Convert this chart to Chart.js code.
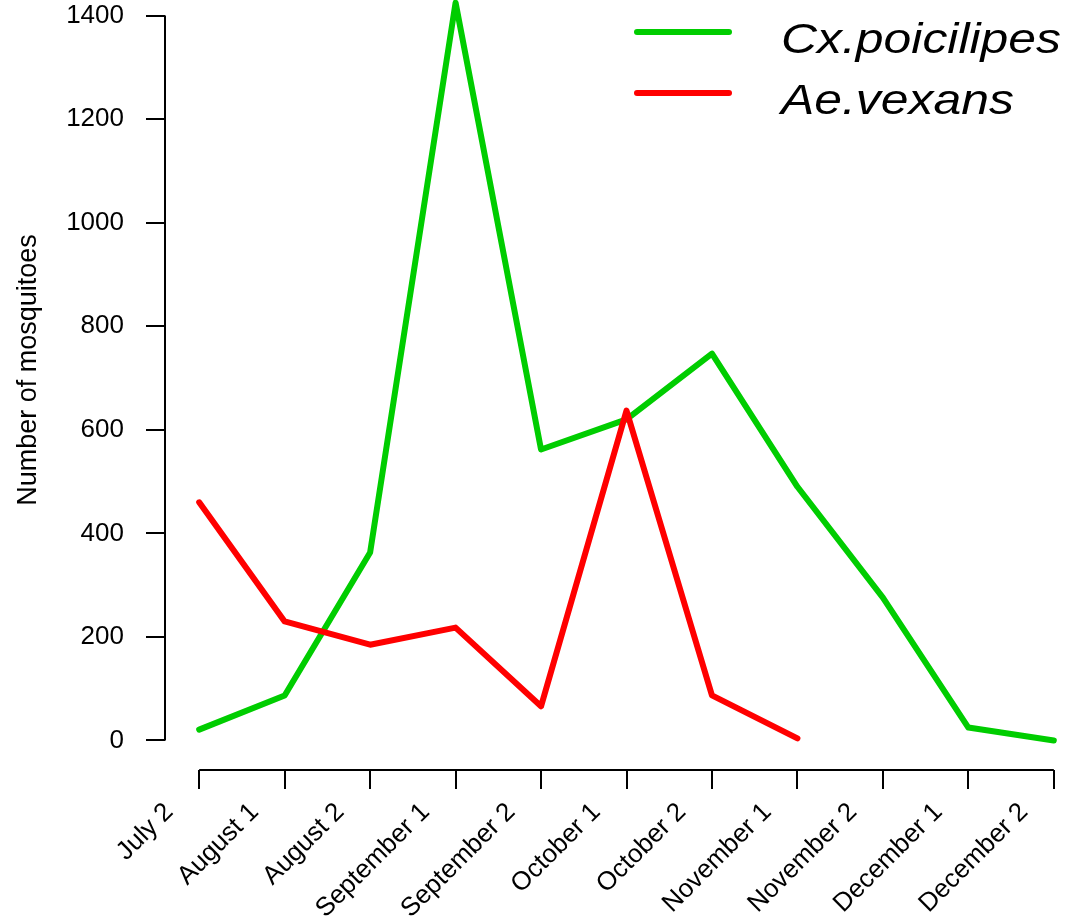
<!DOCTYPE html>
<html>
<head>
<meta charset="utf-8">
<script src="https://cdn.jsdelivr.net/npm/chart.js@4.4.1/dist/chart.umd.min.js"></script>
<style>
    html, body { margin: 0; padding: 0; background: #fff; overflow: hidden; width: 1079px; height: 917px; }
    #wrap { position: absolute; left: 0; top: -30px; width: 1088px; height: 947px; }
</style>
</head>
<body>
<div id="wrap"><canvas id="mosquitoChart"></canvas></div>
<script>
//data
var categories = ["July 2", "August 1", "August 2", "September 1", "September 2", "October 1",
    "October 2", "November 1", "November 2", "December 1", "December 2"];
var cxValues = [21, 87, 363, 1425, 562, 620, 747, 490, 276, 25, 0];
var aeValues = [460, 230, 185, 218, 66, 637, 87, 4, null, null, null];
var yTicks = [0, 200, 400, 600, 800, 1000, 1200, 1400];

//colours
var cxColor = "#00CD00";
var aeColor = "#FF0000";
var fontFamily = "'Liberation Sans', Arial, Helvetica, sans-serif";

function toPoints(values) {
    return values.map(function(v, i) { return { x: i, y: v }; });
}

// R style axis lines, running from first to last tick only
var axisLines = {
    id: "axisLines",
    afterDraw: function(chart) {
        var ctx = chart.ctx;
        var xs = chart.scales.x;
        var ys = chart.scales.y;
        var area = chart.chartArea;
        ctx.save();
        ctx.strokeStyle = "#000";
        ctx.lineWidth = 2;
        ctx.beginPath();
        ctx.moveTo(area.left, ys.getPixelForValue(yTicks[0]));
        ctx.lineTo(area.left, ys.getPixelForValue(yTicks[yTicks.length - 1]));
        ctx.moveTo(xs.getPixelForValue(0), area.bottom);
        ctx.lineTo(xs.getPixelForValue(categories.length - 1), area.bottom);
        ctx.stroke();
        ctx.restore();
    }
};

// legend in the top right corner, line + italic label
var lineLegend = {
    id: "lineLegend",
    afterDraw: function(chart) {
        var ctx = chart.ctx;
        chart.data.datasets.forEach(function(ds, i) {
            var y = 62 + i * 61;
            ctx.save();
            ctx.strokeStyle = ds.borderColor;
            ctx.lineWidth = 6;
            ctx.lineCap = "round";
            ctx.beginPath();
            ctx.moveTo(637, y);
            ctx.lineTo(729, y);
            ctx.stroke();
            // the original font is wider than Liberation, stretch a bit
            ctx.translate(781, y + 21);
            ctx.scale(1.16, 1);
            ctx.fillStyle = "#000";
            ctx.font = "italic 43px " + fontFamily;
            ctx.textBaseline = "alphabetic";
            ctx.textAlign = "left";
            ctx.fillText(ds.label, 0, 0);
            ctx.restore();
        });
    }
};

new Chart("mosquitoChart", {
    type: "line",
    data: {
        datasets: [{
                label: "Cx.poicilipes",
                data: toPoints(cxValues),
                borderColor: cxColor,
                borderWidth: 6,
                order: 2
            },
            {
                label: "Ae.vexans",
                data: toPoints(aeValues),
                borderColor: aeColor,
                borderWidth: 6,
                order: 1
            }
        ]
    },
    options: {
        responsive: true,
        maintainAspectRatio: false,
        animation: false,
        layout: { padding: 0 },
        elements: {
            point: { radius: 0 },
            line: { tension: 0, borderCapStyle: "round", borderJoinStyle: "round", fill: false }
        },
        plugins: {
            legend: { display: false },
            tooltip: { enabled: false }
        },
        scales: {
            x: {
                type: "linear",
                min: -0.4,
                max: 10.4,
                grid: { drawOnChartArea: false, drawTicks: true, tickLength: 19, color: "#000", lineWidth: 2 },
                border: { display: false },
                ticks: {
                    autoSkip: false,
                    minRotation: 45,
                    maxRotation: 45,
                    padding: 8,
                    labelOffset: -30,
                    color: "#000",
                    font: { family: fontFamily, size: 26 },
                    callback: function(v) { return categories[v]; }
                },
                afterBuildTicks: function(scale) {
                    scale.ticks = categories.map(function(c, i) { return { value: i }; });
                },
                afterFit: function(scale) {
                    scale.height = 147;
                    scale.paddingLeft = 0;
                    scale.paddingRight = 0;
                }
            },
            y: {
                min: -57,
                max: 1488,
                grid: { drawOnChartArea: false, drawTicks: true, tickLength: 19, color: "#000", lineWidth: 2 },
                border: { display: false },
                ticks: {
                    padding: 22,
                    color: "#000",
                    font: { family: fontFamily, size: 26 },
                    callback: function(v) { return String(v); }
                },
                title: {
                    display: true,
                    text: "Number of mosquitoes",
                    color: "#000",
                    padding: { top: 12 },
                    font: { family: fontFamily, size: 27 }
                },
                afterBuildTicks: function(scale) {
                    scale.ticks = yTicks.map(function(v) { return { value: v }; });
                },
                afterFit: function(scale) {
                    scale.width = 165;
                    scale.paddingTop = 0;
                    scale.paddingBottom = 0;
                }
            }
        }
    },
    plugins: [axisLines, lineLegend]
});
</script>
</body>
</html>
